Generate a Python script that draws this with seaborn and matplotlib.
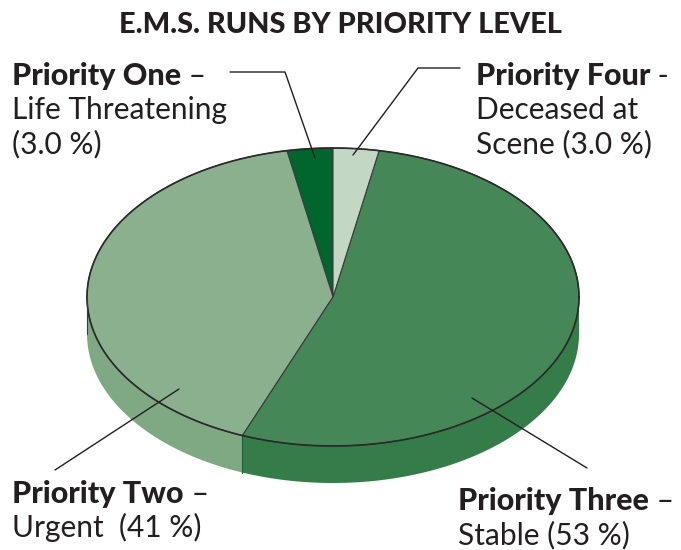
import numpy as np
import matplotlib
matplotlib.use("Agg")
import matplotlib.pyplot as plt
import seaborn as sns

# data
priorities = ["Priority One", "Priority Two", "Priority Three", "Priority Four"]
shares = [3.0, 41.0, 53.0, 3.0]
descriptions = [["Life Threatening", "(3.0 %)"], ["Urgent  (41 %)"], ["Stable (53 %)"],
                ["Deceased at", "Scene (3.0 %)"]]
dashes = [" –", " –", " –", " -"]
top_colors = ["#00662e", "#8ab08e", "#458756", "#c2d8c4"]
side_colors = ["#00552a", "#7ea983", "#347d49", "#afc9b2"]

sns.set_style("white")
plt.rcParams["font.family"] = ["Lato", "DejaVu Sans"]

W, H = 681, 550
fig = plt.figure(figsize=(W / 100, H / 100), dpi=100)
ax = fig.add_axes([0, 0, 1, 1])

# ellipse geometry in pixels
cx, cy, rx, ry = 333, 297, 246, 149
depth = 37 / ry
ink = "#231f20"


def px(x, y):
    return (x - cx) / rx, (cy - y) / ry


# top face
wedges, _ = ax.pie(shares, colors=top_colors, startangle=90, counterclock=True, radius=1,
                   wedgeprops=dict(edgecolor="#3a3a3a", linewidth=0.8))
for w in wedges:
    w.set_zorder(2)

# side walls (front half only)
bounds = 90 + 360 * np.concatenate([[0], np.cumsum(shares)]) / sum(shares)
for i in range(len(shares)):
    a0, a1 = bounds[i], bounds[i + 1]
    for lo, hi in [(180, 360), (540, 720)]:
        s, e = max(a0, lo), min(a1, hi)
        if e <= s:
            continue
        t = np.radians(np.linspace(s, e, 120))
        xs = np.concatenate([np.cos(t), np.cos(t[::-1])])
        ys = np.concatenate([np.sin(t), np.sin(t[::-1]) - depth])
        ax.fill(xs, ys, color=side_colors[i], lw=0, zorder=1)
        if s == a0:
            ax.plot([np.cos(t[0])] * 2, [np.sin(t[0]), np.sin(t[0]) - depth], color="#1f5c33", lw=0.8, zorder=3)

# rim outline
t = np.radians(np.linspace(0, 360, 400))
ax.plot(np.cos(t), np.sin(t), color="#2a2a2a", lw=1.2, zorder=3)
ax.plot([-1, -1], [0, -depth], color="#3a3a3a", lw=0.8, zorder=3)

# leader lines
leaders = [
    [(230, 72), (285, 72), (315, 158)],
    [(179, 389), (55, 470)],
    [(472, 398), (587, 468)],
    [(460, 68), (418, 68), (353, 155)],
]
for pts in leaders:
    xy = np.array([px(*p) for p in pts])
    ax.plot(xy[:, 0], xy[:, 1], color=ink, lw=1.0, zorder=4)

# labels: (x, baseline of bold line)
label_pos = [(12, 85), (12, 503), (458, 510), (476, 85)]
fs = 21.5
for name, desc, dash, (x, y) in zip(priorities, descriptions, dashes, label_pos):
    tb = ax.text(*px(x, y), name, fontsize=fs + 0.5, fontweight="black", color=ink, va="baseline", ha="left")
    ax.annotate(dash, xy=(1, 0), xycoords=tb, va="bottom", ha="left", fontsize=fs, color=ink)
    for k, line in enumerate(desc):
        ax.text(*px(x, y + 34 * (k + 1)), line, fontsize=fs, color=ink, va="baseline", ha="left")

fig.text(340 / W, 1 - 33 / H, "E.M.S. RUNS BY PRIORITY LEVEL", fontsize=20.8, fontweight="black",
         color=ink, ha="center", va="baseline")

ax.set_xlim(-cx / rx, (W - cx) / rx)
ax.set_ylim(-(H - cy) / ry, cy / ry)
ax.set_aspect("auto")
ax.axis("off")

fig.savefig("out.png", dpi=100)
